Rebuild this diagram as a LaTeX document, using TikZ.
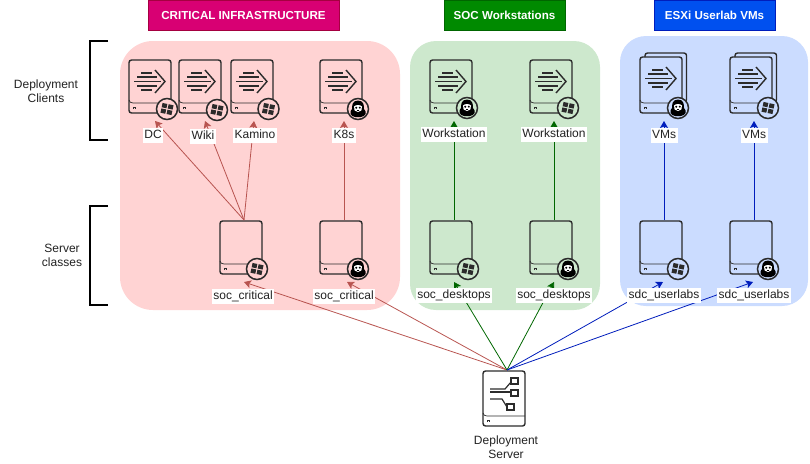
\documentclass[tikz,border=0pt]{standalone}
\usepackage{fontspec}
\usepackage{xcolor}
\usetikzlibrary{arrows.meta}
\setmainfont{Liberation Sans}

\definecolor{redfill}{HTML}{FFD3D3}
\definecolor{greenfill}{HTML}{CDE8CD}
\definecolor{bluefill}{HTML}{CBDCFF}
\definecolor{redline}{HTML}{B85450}
\definecolor{greenline}{HTML}{006600}
\definecolor{blueline}{HTML}{001DBC}
\definecolor{pinkhead}{HTML}{D80073}
\definecolor{pinkedge}{HTML}{A50040}
\definecolor{greenhead}{HTML}{008A00}
\definecolor{bluehead}{HTML}{0050EF}
\definecolor{diskcolor}{HTML}{2B2B2B}
\definecolor{labelcolor}{HTML}{222222}
\colorlet{groupfill}{redfill}

\newcommand{\diskshell}[1]{
    \node [diskbody,minimum height=#1pt] (-body) at (21,#1/2) {};
    \draw [diskthin] (0,#1-13) to [out=-90,in=180] (4,#1-10) -- (42,#1-10);
    \draw [diskthin] (4.5,#1-4) -- (4.5,#1-5.5) -- (6.5,#1-5.5) -- (6.5,#1-4);
    \coordinate (-top) at (24,-1);
    \coordinate (-foot) at (24,#1+8);
}
\newcommand{\chevrons}{
    \draw [diskline] (26,10) -- (36,21.5) -- (26,33);
    \draw [diskglyph] (12,13) -- (23,13);
    \draw [diskglyph] (8,17) -- (28,17);
    \draw [diskglyph] (5,21.5) -- (32,21.5);
    \draw [diskglyph] (8,26) -- (28,26);
    \draw [diskglyph] (12,30) -- (23,30);
}

\tikzset{
    diskline/.style={draw=diskcolor,line width=1.4pt},
    diskthin/.style={draw=diskcolor,line width=0.7pt},
    diskglyph/.style={draw=diskcolor,line width=1.2pt},
    diskbody/.style={diskline,rounded corners=2.5pt,minimum width=42pt,inner sep=0pt},
    badgering/.style={draw=diskcolor,line width=1.5pt,fill=groupfill},
    headbox/.style={draw=#1,text=white,font=\bfseries\fontsize{11.6}{14}\selectfont,inner sep=0pt,minimum height=30.5pt},
    hostlabel/.style={fill=white,text=labelcolor,inner sep=1.5pt,text height=9pt,text depth=3pt,font=\fontsize{12}{14}\selectfont},
    sidelabel/.style={align=center,text=labelcolor,font=\fontsize{12}{14}\selectfont},
    bracket/.style={draw=black,line width=1.5pt},
    redlink/.style={draw=redline,line width=0.8pt,-{Stealth[length=7pt,width=8pt,inset=1.5pt]}},
    greenlink/.style={draw=greenline,line width=0.8pt,-{Stealth[length=7pt,width=8pt,inset=1.5pt]}},
    bluelink/.style={draw=blueline,line width=0.8pt,-{Stealth[length=7pt,width=8pt,inset=1.5pt]}},
    winbadge/.pic={
        \draw [badgering] (0,0) circle [radius=10.5];
        \fill [diskcolor,rotate=-12] (-5.6,-5) rectangle (-0.7,-0.6);
        \fill [diskcolor,rotate=-12] (0.6,-5) rectangle (5.6,-0.6);
        \fill [diskcolor,rotate=-12] (-5.6,0.6) rectangle (-0.7,5);
        \fill [diskcolor,rotate=-12] (0.6,0.6) rectangle (5.6,5);
    },
    linuxbadge/.pic={
        \draw [badgering] (0,0) circle [radius=10.5];
        \fill [black] (0,-8.5) .. controls (-6,-8.5) and (-6,-3) .. (-6,0) .. controls (-9,3) and (-8,7) .. (-3,8) -- (3,8) .. controls (8,7) and (9,3) .. (6,0) .. controls (6,-3) and (6,-8.5) .. (0,-8.5);
        \fill [white] (-4,-2.5) .. controls (-2,-4.5) and (2,-4.5) .. (4,-2.5) -- (3.4,1.5) .. controls (1.5,3.5) and (-1.5,3.5) .. (-3.4,1.5) -- cycle;
        \fill [black] (-1.8,-1.3) circle [radius=1.1];
        \fill [black] (1.8,-1.3) circle [radius=1.1];
        \fill [black] (-1.3,0.9) rectangle (1.3,1.8);
    },
    clientdisk/.pic={
        \diskshell{53}
        \chevrons
    },
    serverdisk/.pic={
        \diskshell{53}
    },
    stackdisk/.pic={
        \draw [diskline,rounded corners=2.5pt] (5,0) -- (5,-4) -- (46.5,-4) -- (46.5,45) -- (42,45);
        \diskshell{56}
        \chevrons
    },
    deploydisk/.pic={
        \diskshell{55}
        \draw [diskglyph] (7,18) -- (22,18) -- (28,11);
        \draw [diskglyph] (7,21) -- (28,21);
        \draw [diskglyph] (7,28) -- (19,28) -- (24,36);
        \draw [diskglyph,fill=white] (28,7) rectangle (35,13);
        \draw [diskglyph,fill=white] (28,19) rectangle (35,25);
        \draw [diskglyph,fill=white] (24,33) rectangle (31,39);
    },
}

\begin{document}
\begin{tikzpicture}[x=1pt,y=-1pt]
    \useasboundingbox (0,0) rectangle (810,463);

    % Groups
    \fill [redfill,rounded corners=33pt] (120,41) rectangle (400,310);
    \fill [greenfill,rounded corners=26pt] (410,41) rectangle (600,310);
    \fill [bluefill,rounded corners=26pt] (620,36) rectangle (808,306);

    % Headers
    \node [headbox=pinkedge,fill=pinkhead,minimum width=191pt] (critical) at (243.5,15.25) {CRITICAL INFRASTRUCTURE};
    \node [headbox=greenline,fill=greenhead,minimum width=121pt] (socgroup) at (504.5,15.25) {SOC Workstations};
    \node [headbox=blueline,fill=bluehead,minimum width=121pt] (esxi) at (714.5,15.25) {ESXi Userlab VMs};

    % Side brackets
    \draw [bracket] (108,41) -- (90,41) -- (90,140) -- (108,140);
    \draw [bracket] (108,206) -- (90,206) -- (90,305) -- (108,305);
    \node [sidelabel] (clientside) at (46,91) {Deployment\\Clients};
    \node [sidelabel] (serverside) at (62,255) {Server\\classes};

    % Critical infrastructure
    \colorlet{groupfill}{redfill}
    \pic (dc) at (129,60) {clientdisk};
    \pic at (167,109) {winbadge};
    \pic (wiki) at (179,60) {clientdisk};
    \pic at (217,110) {winbadge};
    \pic (kamino) at (231,60) {clientdisk};
    \pic at (268.5,109) {winbadge};
    \pic (kube) at (320,60) {clientdisk};
    \pic at (358,109) {linuxbadge};
    \pic (critwin) at (220,221) {serverdisk};
    \pic at (257,269) {winbadge};
    \pic (critlin) at (320,221) {serverdisk};
    \pic at (358,269) {linuxbadge};

    % SOC workstations
    \colorlet{groupfill}{greenfill}
    \pic (wslin) at (430,60) {clientdisk};
    \pic at (467,108) {linuxbadge};
    \pic (wswin) at (530,60) {clientdisk};
    \pic at (568,108) {winbadge};
    \pic (deskwin) at (430,221) {serverdisk};
    \pic at (468,269) {winbadge};
    \pic (desklin) at (530,221) {serverdisk};
    \pic at (568,269) {linuxbadge};

    % ESXi userlab
    \colorlet{groupfill}{bluefill}
    \pic (vmlin) at (640,57) {stackdisk};
    \pic at (678,108) {linuxbadge};
    \pic (vmwin) at (730,57) {stackdisk};
    \pic at (768,108) {winbadge};
    \pic (labwin) at (640,221) {serverdisk};
    \pic at (678,269) {winbadge};
    \pic (lablin) at (730,221) {serverdisk};
    \pic at (768,269) {linuxbadge};

    % Deployment server
    \pic (deploy) at (483,371) {deploydisk};

    % Links up to the clients
    \draw [redlink] (critwin-top) -- ([xshift=2pt]dc-foot);
    \draw [redlink] (critwin-top) -- ([xshift=2pt]wiki-foot);
    \draw [redlink] (critwin-top) -- ([xshift=-1pt]kamino-foot);
    \draw [redlink] (critlin-top) -- (kube-foot);
    \draw [greenlink] (deskwin-top) -- (wslin-foot);
    \draw [greenlink] (desklin-top) -- (wswin-foot);
    \draw [bluelink] (labwin-top) -- (vmlin-foot);
    \draw [bluelink] (lablin-top) -- (vmwin-foot);

    % Links from the deployment server
    \draw [redlink] (deploy-top) -- (critwin-foot);
    \draw [redlink] (deploy-top) -- ([xshift=3pt]critlin-foot);
    \draw [greenlink] (deploy-top) -- (deskwin-foot);
    \draw [greenlink] (deploy-top) -- (desklin-foot);
    \draw [bluelink] (deploy-top) -- ([xshift=-1pt]labwin-foot);
    \draw [bluelink] (deploy-top) -- ([xshift=-1pt]lablin-foot);

    % Labels
    \node [hostlabel] (dclabel) at (153,135.5) {DC};
    \node [hostlabel] (wikilabel) at (203,136.5) {Wiki};
    \node [hostlabel] (kaminolabel) at (255,135.5) {Kamino};
    \node [hostlabel] (kubelabel) at (344,135.5) {K8s};
    \node [hostlabel] (wslinlabel) at (454,134.5) {Workstation};
    \node [hostlabel] (wswinlabel) at (554,134.5) {Workstation};
    \node [hostlabel] (vmlinlabel) at (664,135.5) {VMs};
    \node [hostlabel] (vmwinlabel) at (754,135.5) {VMs};
    \node [hostlabel] (critwinlabel) at (243,296.5) {soc\_critical};
    \node [hostlabel] (critlinlabel) at (344,296) {soc\_critical};
    \node [hostlabel] (deskwinlabel) at (454,295.5) {soc\_desktops};
    \node [hostlabel] (desklinlabel) at (554,295.5) {soc\_desktops};
    \node [hostlabel] (labwinlabel) at (664,295.5) {sdc\_userlabs};
    \node [hostlabel] (lablinlabel) at (754,295.5) {sdc\_userlabs};
    \node [sidelabel] (deploylabel) at (506,447) {Deployment\\Server};
\end{tikzpicture}
\end{document}
